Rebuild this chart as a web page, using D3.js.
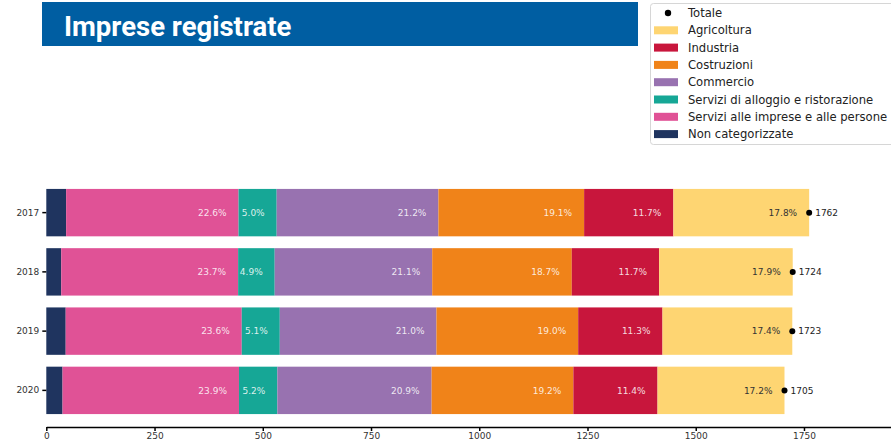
<!DOCTYPE html>
<html>
<head>
<meta charset="utf-8">
<script src="https://cdn.jsdelivr.net/npm/d3@7/dist/d3.min.js"></script>
<style>
  html, body { margin: 0; padding: 0; background: #fff; }
  svg { display: block; }
</style>
</head>
<body>
<svg id="chart" width="891" height="442"></svg>
<script>
// Imprese registrate per settore, 2017-2020
const years = ["2017", "2018", "2019", "2020"];
const totals = [1762, 1724, 1723, 1705];

// Quote percentuali per settore (ordine di impilamento, da sinistra)
const pctNonCategorizzate = [2.6, 2.0, 2.6, 2.2];
const pctServiziImprese = [22.6, 23.7, 23.6, 23.9];
const pctAlloggio = [5.0, 4.9, 5.1, 5.2];
const pctCommercio = [21.2, 21.1, 21.0, 20.9];
const pctCostruzioni = [19.1, 18.7, 19.0, 19.2];
const pctIndustria = [11.7, 11.7, 11.3, 11.4];
const pctAgricoltura = [17.8, 17.9, 17.4, 17.2];

const xTicks = [0, 250, 500, 750, 1000, 1250, 1500, 1750];

const series = [
  { name: "Non categorizzate", pct: pctNonCategorizzate, color: "#1f345f", label: false, dark: false },
  { name: "Servizi alle imprese e alle persone", pct: pctServiziImprese, color: "#e05296", label: true, dark: false },
  { name: "Servizi di alloggio e ristorazione", pct: pctAlloggio, color: "#16a796", label: true, dark: false },
  { name: "Commercio", pct: pctCommercio, color: "#9872b0", label: true, dark: false },
  { name: "Costruzioni", pct: pctCostruzioni, color: "#f08319", label: true, dark: false },
  { name: "Industria", pct: pctIndustria, color: "#c8163c", label: true, dark: false },
  { name: "Agricoltura", pct: pctAgricoltura, color: "#fed572", label: true, dark: true }
];

const svg = d3.select("#chart");
const FONT = "'DejaVu Sans', sans-serif";

// Scales
const x = d3.scaleLinear().domain([0, 1951]).range([46.3, 891]);
const y = d3.scaleBand().domain(years).range([183, 420]).paddingInner(0.2).paddingOuter(0.1);

// Stacked rows built from the percentages
const rows = years.map((yr, i) => {
  let acc = 0;
  return series.map(s => {
    const v = s.pct[i] / 100 * totals[i];
    const seg = { year: yr, x0: acc, x1: acc + v, pct: s.pct[i], s };
    acc += v;
    return seg;
  });
});

const bars = svg.append("g");
rows.forEach(segs => {
  bars.selectAll(null)
    .data(segs)
    .enter()
    .append("rect")
    .attr("x", d => x(d.x0))
    .attr("y", d => y(d.year))
    .attr("width", d => x(d.x1) - x(d.x0))
    .attr("height", y.bandwidth())
    .attr("fill", d => d.s.color);

  bars.selectAll(null)
    .data(segs.filter(d => d.s.label))
    .enter()
    .append("text")
    .attr("x", d => x(d.x1) - 12)
    .attr("y", d => y(d.year) + y.bandwidth() / 2)
    .attr("dy", "0.35em")
    .attr("text-anchor", "end")
    .attr("font-family", FONT)
    .attr("font-size", 9)
    .attr("fill", d => d.s.dark ? "#333" : "#fff")
    .attr("fill-opacity", d => d.s.dark ? 1 : 0.85)
    .text(d => d.pct.toFixed(1) + "%");
});

// Totale markers
const tot = svg.append("g");
tot.selectAll("circle")
  .data(years)
  .enter()
  .append("circle")
  .attr("cx", (d, i) => x(totals[i]))
  .attr("cy", d => y(d) + y.bandwidth() / 2)
  .attr("r", 3)
  .attr("fill", "#000");
tot.selectAll("text")
  .data(years)
  .enter()
  .append("text")
  .attr("x", (d, i) => x(totals[i]) + 6)
  .attr("y", d => y(d) + y.bandwidth() / 2)
  .attr("dy", "0.35em")
  .attr("font-family", FONT)
  .attr("font-size", 9)
  .attr("fill", "#222")
  .text((d, i) => totals[i]);

// Axes
const yAxis = svg.append("g")
  .attr("transform", `translate(${x(0)},0)`)
  .call(d3.axisLeft(y).tickSize(4).tickPadding(3));
yAxis.select(".domain").remove();
yAxis.selectAll("text").attr("font-family", FONT).attr("font-size", 9).attr("fill", "#333");
yAxis.selectAll("line").attr("stroke", "#000").attr("stroke-width", 1.5);

const xAxis = svg.append("g")
  .attr("transform", "translate(0,427)")
  .call(d3.axisBottom(x).tickValues(xTicks).tickFormat(d3.format("d")).tickSize(4).tickPadding(2).tickSizeOuter(0));
xAxis.select(".domain").attr("stroke", "#000").attr("stroke-width", 1.5);
xAxis.selectAll("line").attr("stroke", "#000").attr("stroke-width", 1.5);
xAxis.selectAll("text").attr("font-family", FONT).attr("font-size", 9).attr("fill", "#333");

// Title banner
svg.append("rect")
  .attr("x", 42).attr("y", 2).attr("width", 596).attr("height", 44)
  .attr("fill", "#005ea2");
svg.append("text")
  .attr("x", 64).attr("y", 36)
  .attr("font-family", "Roboto, sans-serif")
  .attr("font-weight", 700)
  .attr("font-size", 27.5)
  .attr("fill", "#fff")
  .text("Imprese registrate");

// Legend
const legendItems = [{ name: "Totale", dot: true }]
  .concat(series.slice().reverse().map(s => ({ name: s.name, color: s.color })));
const lg = svg.append("g");
lg.append("rect")
  .attr("x", 650.5).attr("y", 3.5).attr("width", 260).attr("height", 141)
  .attr("rx", 3)
  .attr("fill", "#fff")
  .attr("stroke", "#d6d6d6");
const rowY = i => 13 + i * 17.3;
legendItems.forEach((d, i) => {
  if (d.dot) {
    lg.append("circle").attr("cx", 668).attr("cy", rowY(i)).attr("r", 3.2).attr("fill", "#000");
  } else {
    lg.append("rect").attr("x", 654).attr("y", rowY(i) - 4).attr("width", 24).attr("height", 8).attr("fill", d.color);
  }
  lg.append("text")
    .attr("x", 688).attr("y", rowY(i))
    .attr("dy", "0.35em")
    .attr("font-family", FONT)
    .attr("font-size", 11.6)
    .attr("fill", "#222")
    .text(d.name);
});
</script>
</body>
</html>
